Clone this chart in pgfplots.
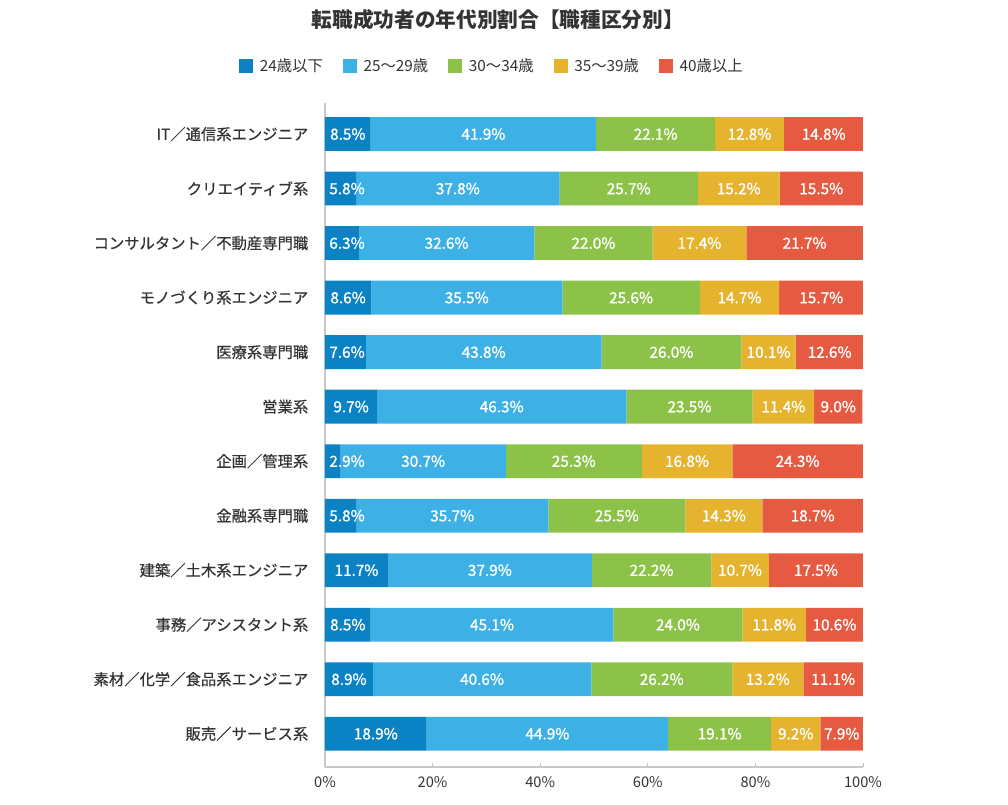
\documentclass[border=0pt]{standalone}
\usepackage{fontspec}
\setmainfont{Noto Sans CJK JP}
\newfontfamily\labfont{Noto Sans CJK JP}[FakeBold=1.2]
\newfontfamily\tickfont{Noto Sans CJK JP}[FakeBold=0.5]
\usepackage{pgfplots}
\pgfplotsset{compat=1.18}
\usepackage{pgfplotstable}
\definecolor{cA}{HTML}{0A82C4}
\definecolor{cB}{HTML}{3DB1E6}
\definecolor{cC}{HTML}{8CC248}
\definecolor{cD}{HTML}{E6B32E}
\definecolor{cE}{HTML}{E65A41}
\definecolor{txt}{HTML}{333333}
\definecolor{axc}{HTML}{C8C8C8}
\pgfplotstableread{
idx a b c d e
0 8.5 41.9 22.1 12.8 14.8
1 5.8 37.8 25.7 15.2 15.5
2 6.3 32.6 22.0 17.4 21.7
3 8.6 35.5 25.6 14.7 15.7
4 7.6 43.8 26.0 10.1 12.6
5 9.7 46.3 23.5 11.4 9.0
6 2.9 30.7 25.3 16.8 24.3
7 5.8 35.7 25.5 14.3 18.7
8 11.7 37.9 22.2 10.7 17.5
9 8.5 45.1 24.0 11.8 10.6
10 8.9 40.6 26.2 13.2 11.1
11 18.9 44.9 19.1 9.2 7.9
}\data
\pgfplotsset{
  common/.style={
    at={(0,0)}, anchor=south west,
    scale only axis, width=403.5pt, height=498pt,
    xmin=0, xmax=100, ymin=-0.57, ymax=11.61, y dir=reverse,
    /pgf/number format/assume math mode=true,
  },
  lab/.style={draw=none, mark=none, nodes near coords={\pgfmathprintnumber[fixed,precision=1,fixed zerofill,assume math mode=true]{\pgfplotspointmeta}\%},
    nodes near coords align=center, point meta=explicit,
    every node near coord/.append style={font=\labfont\fontsize{11.5pt}{13pt}\selectfont, text=white, anchor=center, inner sep=0pt}},
}
\begin{document}
\begin{tikzpicture}
\begin{axis}[
  common,
  xbar stacked, bar width=0.62,
  clip=true,
  axis lines*=left,
  axis line style={draw=axc, line width=0.8pt},
  xtick={0,20,40,60,80,100},
  xticklabel={\pgfmathprintnumber{\tick}\%},
  xtick style={draw=axc, line width=0.6pt},
  tick align=inside, major tick length=3pt,
  ytick={0,...,11},
  yticklabels={IT／通信系エンジニア, クリエイティブ系, コンサルタント／不動産専門職, モノづくり系エンジニア, 医療系専門職, 営業系, 企画／管理系, 金融系専門職, 建築／土木系エンジニア, 事務／アシスタント系, 素材／化学／食品系エンジニア, 販売／サービス系},
  ytick style={draw=none},
  yticklabel style={font=\tickfont\fontsize{11.5pt}{13pt}\selectfont, text=txt, xshift=-9pt},
  xticklabel style={font=\fontsize{11pt}{13pt}\selectfont, text=txt, yshift=-4pt},
  legend columns=5,
  legend style={at={(rel axis cs:0.311,1.0557)}, anchor=center, draw=none, fill=none,
    font=\fontsize{11.5pt}{13pt}\selectfont, text=txt,
    /tikz/every even column/.append style={column sep=13pt}},
  legend image code/.code={\fill[#1] (0pt,-5.25pt) rectangle (10.5pt,5.25pt); \path (13.5pt,0pt);},
  legend cell align=left,
]
\addplot[fill=cA, draw=none] table[x=a, y=idx] {\data};
\addlegendentry{24歳以下}
\addplot[fill=cB, draw=none] table[x=b, y=idx] {\data};
\addlegendentry{25～29歳}
\addplot[fill=cC, draw=none] table[x=c, y=idx] {\data};
\addlegendentry{30～34歳}
\addplot[fill=cD, draw=none] table[x=d, y=idx] {\data};
\addlegendentry{35～39歳}
\addplot[fill=cE, draw=none] table[x=e, y=idx] {\data};
\addlegendentry{40歳以上}
\end{axis}
\begin{axis}[common, hide axis, clip=false]
\addplot[lab] table[x expr={max(\thisrow{a}/2,4.1)}, y=idx, meta=a] {\data};
\addplot[lab] table[x expr={\thisrow{a}+\thisrow{b}/2}, y=idx, meta=b] {\data};
\addplot[lab] table[x expr={\thisrow{a}+\thisrow{b}+\thisrow{c}/2}, y=idx, meta=c] {\data};
\addplot[lab] table[x expr={\thisrow{a}+\thisrow{b}+\thisrow{c}+\thisrow{d}/2}, y=idx, meta=d] {\data};
\addplot[lab] table[x expr={\thisrow{a}+\thisrow{b}+\thisrow{c}+\thisrow{d}+\thisrow{e}/2}, y=idx, meta=e] {\data};
\end{axis}
\node[font=\bfseries\fontsize{15.5pt}{18pt}\selectfont, text=txt] at (129.75pt,560.25pt) {転職成功者の年代別割合【職種区分別】};
\pgfresetboundingbox
\path[use as bounding box] (-243.75pt,-28.5pt) rectangle (512.25pt,575.25pt);
\end{tikzpicture}
\end{document}
